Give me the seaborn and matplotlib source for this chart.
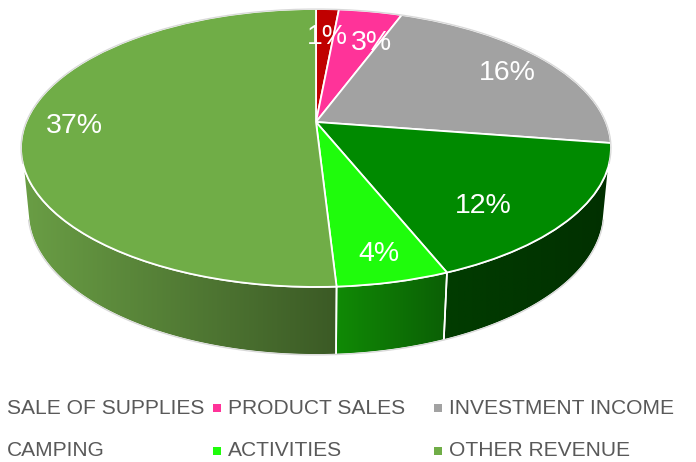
import numpy as np
import matplotlib
matplotlib.use('Agg')
import matplotlib.pyplot as plt
import seaborn as sns
from matplotlib.patches import Polygon
from matplotlib.transforms import Transform

# chart data (labels show them rounded)
categories = ['SALE OF SUPPLIES', 'PRODUCT SALES', 'INVESTMENT INCOME',
              'CAMPING', 'ACTIVITIES', 'OTHER REVENUE']
values = [1.1, 3.05, 16, 12.1, 3.8, 37.4]
colors = ['#c00000', '#ff3399', '#a2a2a2', '#008a00', '#1ffc0c', '#70ad47']

# side wall shading, left colour and right colour
wall_shades = {3: ('#013c00', '#013000'),
               4: ('#108a06', '#0b5f05'),
               5: ('#6a9e45', '#3b5a25')}

# where the texts sit
label_xy = [(327, 37), (371, 43), (507, 73), (483, 206), (379, 254), (74, 126)]
legend_xy = [(7, 408), (228, 408), (449, 408), (7, 451), (228, 451), (449, 451)]

# perspective of the pie disc
CX, APEX_Y = 316, 122
A, B, K = 289.8, 134.1, 0.187
DROP_X_SCALE, DROP_Y_SCALE, DROP_APEX_Y = 0.976, 1.03, 185
WALL_FROM, WALL_TO = 197, 343
DROP_FROM, DROP_TO = 194, 346


class Tilt(Transform):
    input_dims = 2
    output_dims = 2

    def transform_non_affine(self, xy):
        xy = np.asarray(xy, dtype=float)
        w = 1 + K * xy[:, 1]
        return np.column_stack([CX + A * xy[:, 0] / w, APEX_Y - B * xy[:, 1] / w])


def rim(deg, bottom=False):
    t = np.radians(deg)
    pts = Tilt().transform_non_affine(np.column_stack([np.cos(t), np.sin(t)]))
    if bottom:
        pts[:, 0] = CX + (pts[:, 0] - CX) * DROP_X_SCALE
        pts[:, 1] = DROP_APEX_Y + (pts[:, 1] - APEX_Y) * DROP_Y_SCALE
    return pts


sns.set_theme(style='white')
plt.rcParams['font.family'] = ['Liberation Sans', 'DejaVu Sans']

fig = plt.figure(figsize=(6.96, 4.62), dpi=100)
ax = fig.add_axes([0, 0, 1, 1])

wedges, _ = ax.pie(values, colors=sns.color_palette(colors), startangle=90,
                   counterclock=False, radius=1,
                   wedgeprops={'edgecolor': 'white', 'linewidth': 1.3, 'zorder': 5})
ax.set_aspect('auto')
tilt = Tilt() + ax.transData
for w in wedges:
    w.set_transform(tilt)

# side walls below the front of the rim
for i, w in enumerate(wedges):
    t1, t2 = sorted([w.theta1 % 360, w.theta2 % 360])
    lo, hi = max(t1, WALL_FROM), min(t2, WALL_TO)
    if i not in wall_shades or lo >= hi:
        continue
    deg = np.linspace(lo, hi, 80)
    # lower edge runs a bit further round so the outer sides stay smooth
    lo_b = DROP_FROM if lo == WALL_FROM else lo
    hi_b = DROP_TO if hi == WALL_TO else hi
    deg_b = np.linspace(lo_b, hi_b, 80)
    low = rim(deg_b, bottom=True)
    pts = np.vstack([rim(deg), low[::-1]])
    x0, x1 = pts[:, 0].min(), pts[:, 0].max()
    y0, y1 = pts[:, 1].min(), pts[:, 1].max()
    c0, c1 = [np.array(matplotlib.colors.to_rgb(c)) for c in wall_shades[i]]
    ramp = np.linspace(0, 1, 256)[:, None]
    img = (c0 * (1 - ramp) + c1 * ramp)[None, :, :]
    im = ax.imshow(img, extent=(x0, x1, y1, y0), aspect='auto', zorder=2)
    outline = Polygon(pts, closed=True, facecolor='none', edgecolor='white',
                      linewidth=1.2, zorder=3)
    ax.add_patch(outline)
    im.set_clip_path(outline)
    ax.plot(low[:, 0], low[:, 1], color='#d8d8d8', lw=0.9, zorder=4)

# faint outer line around the back of the disc
deg = np.linspace(-17, 197, 200)
back = rim(deg)
ax.plot(back[:, 0], back[:, 1], color='#d8d8d8', lw=0.9, zorder=6)

for (x, y), v in zip(label_xy, values):
    ax.text(x, y, f'{v:.0f}%', color='white', fontsize=20.5, ha='center', va='center', zorder=7)

# legend, the first column has its swatches cut off by the frame
for i, (name, (x, y)) in enumerate(zip(categories, legend_xy)):
    ax.text(x, y, name, color='#595959', fontsize=15.1, ha='left', va='center')
    if i % 3 != 0:
        ax.scatter(x - 11, y, marker='s', s=34, color=colors[i], linewidths=0)

ax.set_xlim(0, 696)
ax.set_ylim(462, 0)
ax.axis('off')
fig.savefig('out.png', dpi=100, facecolor='white')
